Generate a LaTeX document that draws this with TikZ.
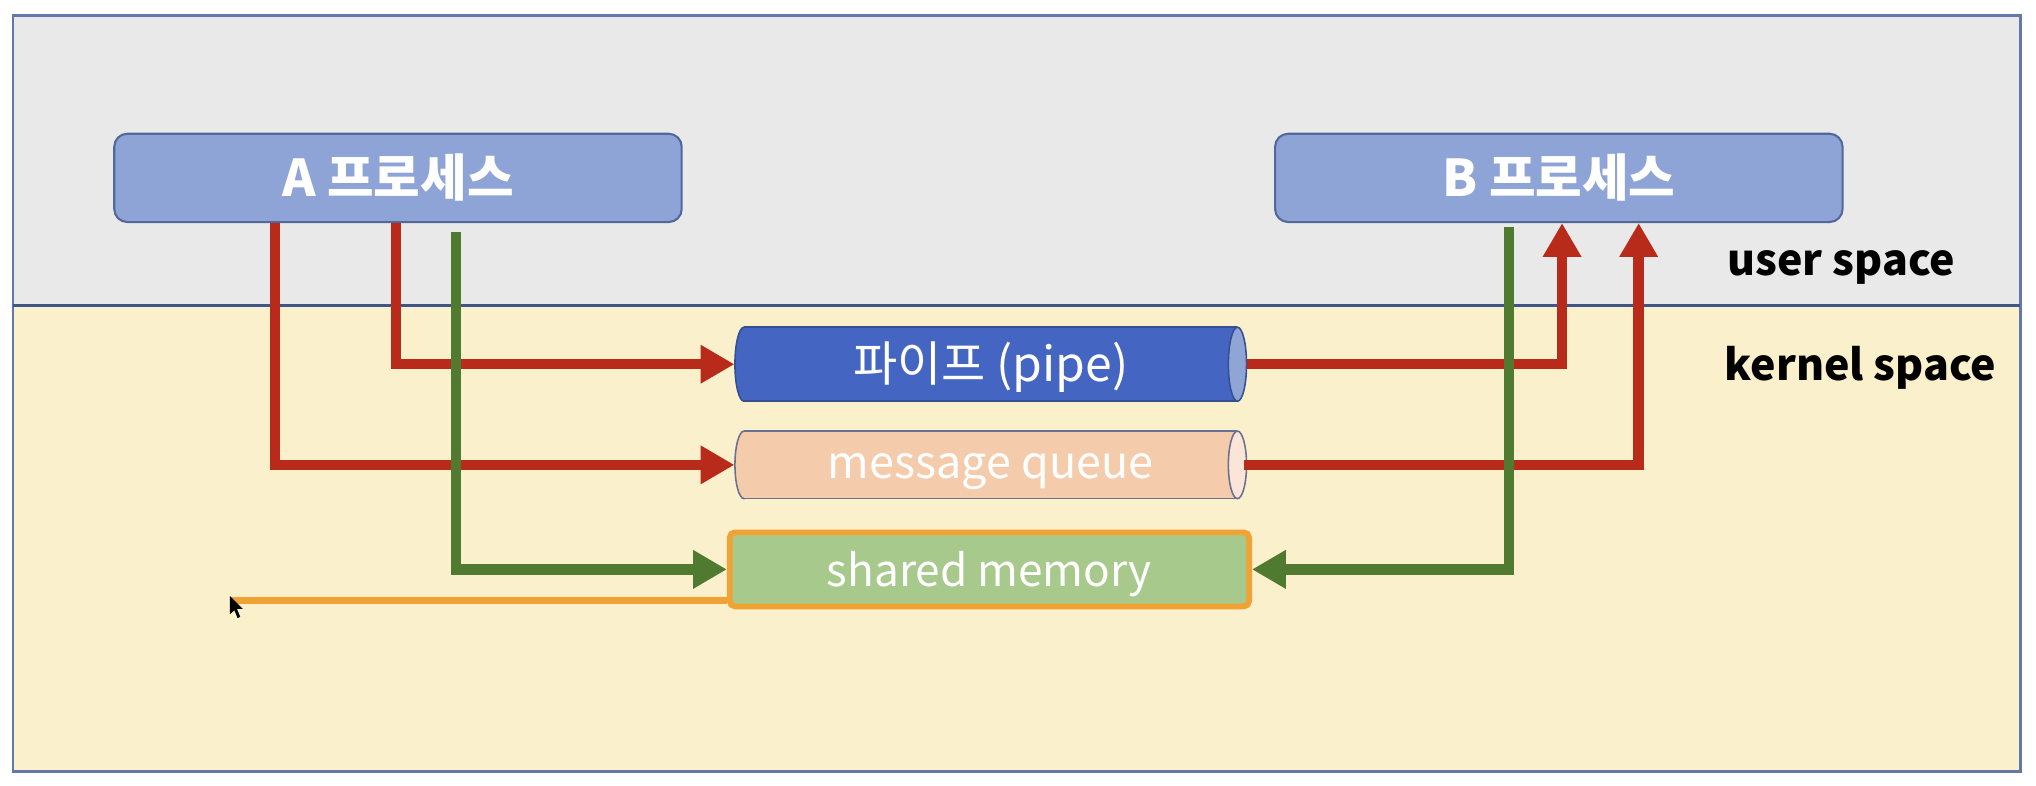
\documentclass[tikz,border=0pt]{standalone}
\usepackage{fontspec}
\setmainfont{Noto Sans CJK KR}
\usetikzlibrary{arrows.meta,calc}
\definecolor{usergray}{HTML}{E9E9EA}
\definecolor{kernelyel}{HTML}{FBF0CC}
\definecolor{frameblue}{HTML}{6478A8}
\definecolor{divblue}{HTML}{3F5488}
\definecolor{procfill}{HTML}{8EA4D6}
\definecolor{procedge}{HTML}{52679A}
\definecolor{pipeblue}{HTML}{4466C2}
\definecolor{pipeend}{HTML}{8EA5D6}
\definecolor{pipeedge}{HTML}{34508F}
\definecolor{mqfill}{HTML}{F4CBAB}
\definecolor{mqend}{HTML}{FBE5D8}
\definecolor{mqedge}{HTML}{6A7090}
\definecolor{smfill}{HTML}{A8C98C}
\definecolor{smedge}{HTML}{F0A234}
\definecolor{arrred}{HTML}{B82B1A}
\definecolor{arrgreen}{HTML}{507A30}
\tikzset{
  procbox/.style={rectangle, rounded corners=5pt, fill=procfill, draw=procedge, line width=0.8pt,
    minimum width=218.5pt, minimum height=34pt, text=white, font=\bfseries\fontsize{19.5}{22}\selectfont},
  spacelabel/.style={text=black, font=\bfseries\fontsize{16.5}{19}\selectfont, inner sep=0pt},
  cyltext/.style={rectangle, inner sep=0pt, minimum width=197pt, text=white},
  redarrow/.style={draw=arrred, line width=4pt, -{Triangle[width=14pt,length=13pt]}},
  greenarrow/.style={draw=arrgreen, line width=4pt, -{Triangle[width=14pt,length=13pt]}},
}
\begin{document}
\begin{tikzpicture}[x=0.5pt,y=-0.5pt]
\useasboundingbox (0,0) rectangle (1568,605);
\fill[white] (0,0) rectangle (1568,605);
% spaces
\fill[usergray] (10,12) rectangle (1556,235);
\fill[kernelyel] (10,235) rectangle (1556,594);
\draw[frameblue, line width=1pt] (10,12) rectangle (1556,594);
\draw[divblue, line width=1.2pt] (10,235) -- (1556,235);
% processes
\node[procbox] (A) at (306.5,137) {A 프로세스};
\node[procbox] (B) at (1200.5,137) {B 프로세스};
% labels
\node[spacelabel] (us) at (1418,206) {user space};
\node[spacelabel] (ks) at (1433,283) {kernel space};
% pipe cylinder
\filldraw[fill=pipeblue, draw=pipeedge, line width=0.6pt] (573,280.5) ellipse [x radius=3.5pt, y radius=14.25pt];
\fill[pipeblue] (573,252) rectangle (953,309);
\draw[pipeedge, line width=0.6pt] (573,252) -- (953,252) (573,309) -- (953,309);
\filldraw[fill=pipeend, draw=pipeedge, line width=0.6pt] (953,280.5) ellipse [x radius=3.5pt, y radius=14.25pt];
\node[cyltext, minimum height=28.5pt, font=\fontsize{18.5}{21}\selectfont] (pipe) at (763,280.5) {\raisebox{-1pt}[\height][\depth]{파이프 (pipe)}};
% message queue cylinder
\filldraw[fill=mqfill, draw=mqedge, line width=0.6pt] (573,358) ellipse [x radius=3.5pt, y radius=13pt];
\fill[mqfill] (573,332) rectangle (953,384);
\draw[mqedge, line width=0.6pt] (573,332) -- (953,332) (573,384) -- (953,384);
\filldraw[fill=mqend, draw=mqedge, line width=0.6pt] (953,358) ellipse [x radius=3.5pt, y radius=13pt];
\node[cyltext, minimum height=26pt, font=\fontsize{17.3}{20}\selectfont] (mq) at (763,358) {\raisebox{-2.5pt}[\height][\depth]{message queue}};
% shared memory
\node[rectangle, rounded corners=2pt, fill=smfill, draw=smedge, line width=2.2pt,
  minimum width=200pt, minimum height=28.5pt, text=white, font=\fontsize{17}{20}\selectfont] (sm) at (762,438.5) {\raisebox{-2pt}[\height][\depth]{shared memory}};
% connectors from A
\draw[redarrow] ([xshift=-0.75pt]A.south) |- (pipe.west);
\draw[redarrow] ([xshift=-47.25pt]A.south) |- (mq.west);
\draw[greenarrow] ([xshift=22.25pt,yshift=-3.5pt]A.south) |- (sm.west);
% connectors to B
\draw[redarrow] (pipe.east) -| ([xshift=1.25pt]B.south);
\draw[redarrow] ([xshift=-1pt]mq.east) -| ([xshift=30.75pt]B.south);
\draw[greenarrow] ([xshift=-19.25pt,yshift=-1.5pt]B.south) |- (sm.east);
% orange line
\coordinate (ostart) at ([yshift=3.5pt]sm.south west);
\coordinate (oend) at (177,460);
\draw[smedge, line width=2.6pt] (ostart) -- (ostart -| oend);
% cursor
\fill[black] (177,459) -- (177,473) -- (180.5,470) -- (183,476) -- (185,475) -- (182.5,469) -- (187,469) -- cycle;
\end{tikzpicture}
\end{document}
